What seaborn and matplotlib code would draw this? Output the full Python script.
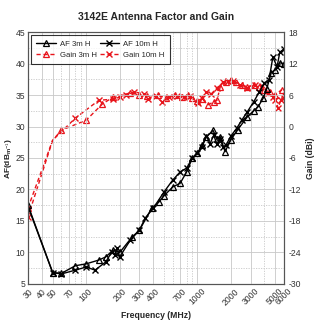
import numpy as np
import pandas as pd
import matplotlib
matplotlib.use("Agg")
import matplotlib.pyplot as plt
import seaborn as sns
from matplotlib.ticker import FixedLocator, NullFormatter

sns.set_style("white")
plt.rcParams['font.family'] = ['Liberation Sans', 'DejaVu Sans']

# ---------------- data ----------------
af3_freq = [30, 50, 60, 80, 100, 130, 150, 175, 200, 260, 300, 390, 450, 500, 600,
            700, 800, 900, 1000, 1100, 1200, 1380, 1500, 1600, 1770, 2000, 2300,
            2800, 3200, 3500, 3900, 4200, 4600, 5000, 5500, 6000]
af3_val = [17.5, 6.8, 6.7, 7.9, 8.2, 8.8, 9.3, 10.4, 10.0, 12.5, 13.5, 17.1, 18.0,
           19.0, 20.4, 21.0, 22.8, 25.0, 25.8, 27.0, 28.3, 29.4, 28.0, 28.4, 26.0,
           27.9, 29.5, 31.5, 32.5, 33.1, 34.5, 36.0, 38.5, 39.0, 40.1, 40.0]

af10_freq = [30, 50, 60, 80, 100, 120, 150, 170, 180, 190, 200, 250, 300, 340, 400,
             500, 600, 700, 800, 900, 1000, 1100, 1200, 1300, 1400, 1500, 1600,
             1700, 1800, 2000, 2270, 2500, 2800, 3200, 3600, 4000, 4400, 4760,
             5200, 5500, 6000]
af10_val = [17.3, 6.8, 6.6, 7.2, 7.7, 7.2, 8.5, 10.1, 9.6, 10.7, 9.3, 12.0, 13.5,
            15.5, 17.0, 19.6, 21.5, 22.8, 23.4, 25.0, 25.8, 26.7, 28.5, 27.3, 28.6,
            27.2, 28.0, 26.8, 27.0, 28.5, 29.8, 31.0, 32.3, 33.9, 35.5, 36.9, 37.4,
            41.0, 39.5, 41.8, 42.3]

g3_freq = [30, 50, 60, 100, 140, 175, 250, 300, 350, 440, 520, 630, 720, 820, 900,
           1000, 1100, 1240, 1400, 1500, 1600, 1800, 2000, 2200, 2500, 2800, 3200,
           3600, 4000, 4500, 5000, 5700, 6000]
g3_val = [-15.5, -2.6, -0.7, 1.2, 4.3, 5.6, 6.4, 6.0, 5.8, 6.0, 5.4, 6.0, 5.6, 6.0,
          5.4, 4.9, 5.3, 4.1, 4.7, 5.0, 7.5, 8.5, 8.9, 8.5, 7.9, 7.5, 7.9, 7.5, 7.0,
          6.6, 6.0, 7.0, 6.0]

g10_freq = [30, 50, 80, 130, 175, 200, 230, 270, 330, 360, 420, 480, 560, 650, 750,
            850, 1010, 1100, 1200, 1330, 1490, 1710, 1900, 2100, 2400, 2800, 3300,
            3800, 4300, 4800, 5000, 5330, 5600, 6000]
g10_val = [-17.2, -2.6, 1.6, 5.0, 5.2, 5.6, 6.0, 6.6, 6.2, 5.2, 5.8, 4.7, 5.6, 5.8,
           5.6, 5.8, 4.5, 5.5, 6.6, 6.2, 7.3, 8.5, 8.7, 8.7, 7.9, 7.3, 7.9, 7.8,
           6.4, 5.6, 5.0, 3.5, 5.0, 5.5]

x_ticks = [30, 40, 50, 70, 100, 200, 300, 400, 700, 1000, 2000, 3000, 5000, 6000]
x_minor = [60, 80, 90, 500, 600, 800, 900, 4000]
af_ticks = [5, 10, 15, 20, 25, 30, 35, 40, 45]
gain_ticks = [-30, -24, -18, -12, -6, 0, 6, 12, 18]

# ---------------- figure ----------------
fig = plt.figure(figsize=(3.23, 3.32), dpi=100)
ax = fig.add_axes([0.0867, 0.1446, 0.7926, 0.759])
ax2 = ax.twinx()

fs = 6.2
ms = 5
red = "#e8141b"

df_af3 = pd.DataFrame({"f": af3_freq, "v": af3_val})
df_af10 = pd.DataFrame({"f": af10_freq, "v": af10_val})
df_g3 = pd.DataFrame({"f": g3_freq, "v": g3_val})
df_g10 = pd.DataFrame({"f": g10_freq, "v": g10_val})

g3_mark = [i for i in range(len(g3_freq)) if g3_freq[i] != 50]
g10_mark = [i for i in range(len(g10_freq)) if g10_freq[i] != 50]
af10_mark = [i for i in range(len(af10_freq)) if af10_freq[i] != 30]

sns.lineplot(data=df_g3, x="f", y="v", ax=ax2, color=red, lw=1.0,
             linestyle=(0, (3, 2)), marker="^", markersize=ms, markevery=g3_mark,
             markerfacecolor="none", markeredgecolor=red, markeredgewidth=0.9,
             label="Gain 3m H", legend=False)
sns.lineplot(data=df_g10, x="f", y="v", ax=ax2, color=red, lw=1.0,
             linestyle=(0, (3, 2)), marker="x", markersize=ms, markevery=g10_mark,
             markeredgecolor=red, markeredgewidth=1.0,
             label="Gain 10m H", legend=False)
sns.lineplot(data=df_af3, x="f", y="v", ax=ax, color="black", lw=1.0,
             marker="^", markersize=ms, markerfacecolor="none",
             markeredgecolor="black", markeredgewidth=0.9,
             label="AF 3m H", legend=False)
sns.lineplot(data=df_af10, x="f", y="v", ax=ax, color="black", lw=1.0,
             marker="x", markersize=ms, markeredgecolor="black", markevery=af10_mark,
             markeredgewidth=1.0, label="AF 10m H", legend=False)

ax.set_zorder(ax2.get_zorder() + 1)
ax.patch.set_visible(False)

ax.set_xscale("log")
ax.set_xlim(30, 6000)
ax.set_ylim(5, 45)
ax2.set_ylim(-30, 18)
ax.xaxis.set_major_locator(FixedLocator(x_ticks))
ax.xaxis.set_minor_locator(FixedLocator(x_minor))
ax.xaxis.set_minor_formatter(NullFormatter())
ax.set_xticklabels([str(t) for t in x_ticks], rotation=45, fontsize=fs,
                   ha="center", va="top", color="#333333")
ax.set_yticks(af_ticks)
ax.set_yticklabels([str(t) for t in af_ticks], fontsize=fs, color="#333333")
ax.set_yticks([7.5, 12.5, 17.5, 22.5, 27.5, 32.5, 37.5, 42.5], minor=True)
ax2.set_yticks(gain_ticks)
ax2.set_yticklabels([str(t) for t in gain_ticks], fontsize=fs, color="#333333")

ax.grid(True, which="major", color="#c8c8c8", lw=0.6, ls="-")
ax.grid(True, which="minor", color="#c8c8c8", lw=0.6, ls=(0, (1.5, 1.5)))
ax2.grid(False)
ax.tick_params(axis="both", which="both", length=0, pad=2)
ax2.tick_params(axis="y", length=0, pad=3)

for a in (ax, ax2):
    for s in a.spines.values():
        s.set_color("#555555")
        s.set_linewidth(0.8)

ax.set_xlabel("Frequency (MHz)", fontsize=6.2, fontweight="bold", labelpad=3)
ax.set_ylabel(r"AF(dB$_{\mathregular{m}^{-1}}$)", fontsize=6.0, fontweight="bold", labelpad=1)
ax2.set_ylabel("Gain (dBi)", fontsize=6.2, fontweight="bold", labelpad=4)
ax.set_title("3142E Antenna Factor and Gain", fontsize=7.5, fontweight="bold", pad=9,
             x=0.5)

h1, l1 = ax.get_legend_handles_labels()
h2, l2 = ax2.get_legend_handles_labels()
handles = [h1[0], h2[0], h1[1], h2[1]]
labels = [l1[0], l2[0], l1[1], l2[1]]
leg = ax.legend(handles, labels, ncol=2, loc="upper left", fontsize=5.6,
                frameon=True, fancybox=False, edgecolor="black",
                borderpad=0.7, handlelength=2.5, columnspacing=0.4,
                handletextpad=0.5, labelspacing=0.5,
                bbox_to_anchor=(0.005, 0.995), borderaxespad=0.2)
leg.get_frame().set_linewidth(0.8)

fig.savefig("out.png", dpi=100)
